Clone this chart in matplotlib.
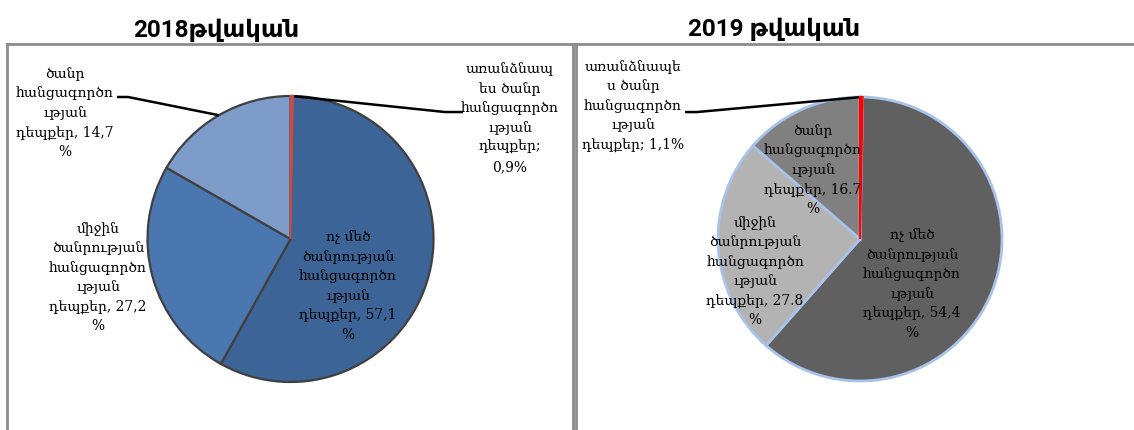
import numpy as np
import matplotlib
matplotlib.use("Agg")
import matplotlib.pyplot as plt

# data: wedge shares, label texts as printed
shares_2018 = [0.3, 57.8, 25.2, 16.7]
labels_2018 = ["առանձնապ\nես ծանր\nհանցագործո\nւթյան\nդեպքեր;\n0,9%",
               "ոչ մեծ\nծանրության\nհանցագործո\nւթյան\nդեպքեր, 57,1\n%",
               "միջին\nծանրության\nհանցագործո\nւթյան\nդեպքեր, 27,2\n%",
               "ծանր\nհանցագործո\nւթյան\nդեպքեր, 14,7\n%"]
shares_2019 = [0.3, 61.2, 24.9, 13.6]
labels_2019 = ["առանձնապե\nս ծանր\nհանցագործո\nւթյան\nդեպքեր; 1,1%",
               "ոչ մեծ\nծանրության\nհանցագործո\nւթյան\nդեպքեր, 54,4\n%",
               "միջին\nծանրության\nհանցագործո\nւթյան\nդեպքեր, 27.8\n%",
               "ծանր\nհանցագործո\nւթյան\nդեպքեր, 16.7\n%"]
titles = ["2018թվական", "2019 թվական"]

colors_2018 = ['#c0504d', '#3c6496', '#4a77b0', '#7d9cc9']
colors_2019 = ['#ff0000', '#606060', '#b3b3b3', '#808080']

W, H = 1134, 430
fig = plt.figure(figsize=(W / 100, H / 100), dpi=100)

lab_font = {'family': ['DejaVu Serif', 'DejaVu Sans'], 'size': 10, 'linespacing': 1.5}
title_font = {'family': ['Roboto', 'DejaVu Sans'], 'size': 17.5, 'weight': 'bold'}


def panel(x0, x1, cx, cy, R):
    # axes covering panel box, one data unit = pie radius in px
    ax = fig.add_axes([x0 / W, 0, (x1 - x0) / W, (H - 44) / H])
    for s in ax.spines.values():
        s.set_color('#8c8c8c')
        s.set_linewidth(2)
    ax.spines['bottom'].set_visible(False)
    return ax


def fit(ax, x0, x1, cx, cy, R):
    ax.set_aspect('auto')
    ax.set_xlim((x0 - cx) / R, (x1 - cx) / R)
    ax.set_ylim(-(H - cy) / R, (cy - 44) / R)
    ax.set_xticks([])
    ax.set_yticks([])


def leader(ax, w, elbow, end):
    ang = np.deg2rad((w.theta1 + w.theta2) / 2)
    p = (np.cos(ang), np.sin(ang))
    ax.plot([p[0], elbow[0], end[0]], [p[1], elbow[1], end[1]],
            color='black', lw=1.8, solid_capstyle='butt', zorder=1)


# 2018
ax1 = panel(7, 573, 290.5, 239, 143)
w1, _ = ax1.pie(shares_2018, colors=colors_2018, startangle=90, counterclock=False,
                radius=1, center=(0, 0), frame=True,
                wedgeprops=dict(edgecolor='#404040', linewidth=1.6))
w1[0].set_edgecolor(colors_2018[0])
w1[0].set_linewidth(1.5)
w1[0].set_zorder(3)
fit(ax1, 7, 573, 290.5, 239, 143)
leader(ax1, w1[0], (1.08, 0.888), (1.206, 0.888))
leader(ax1, w1[3], (-1.136, 0.993), (-1.213, 0.993))
ax1.text(1.535, 0.846, labels_2018[0], ha='center', va='center', **lab_font)
ax1.text(0.402, -0.329, labels_2018[1], ha='center', va='center', **lab_font)
ax1.text(-1.346, -0.269, labels_2018[2], ha='center', va='center', **lab_font)
ax1.text(-1.577, 0.881, labels_2018[3], ha='center', va='center', **lab_font)

# 2019
ax2 = panel(576, 1136, 860, 239, 142)
w2, _ = ax2.pie(shares_2019, colors=colors_2019, startangle=90, counterclock=False,
                radius=1, center=(0, 0), frame=True,
                wedgeprops=dict(edgecolor='#a9c2ea', linewidth=2))
w2[0].set_edgecolor(colors_2019[0])
w2[0].set_linewidth(1.5)
w2[0].set_zorder(3)
fit(ax2, 576, 1136, 860, 239, 142)
leader(ax2, w2[0], (-1.148, 0.894), (-1.232, 0.894))
ax2.text(-1.599, 0.937, labels_2019[0], ha='center', va='center', **lab_font)
ax2.text(0.366, -0.317, labels_2019[1], ha='center', va='center', **lab_font)
ax2.text(-0.739, -0.229, labels_2019[2], ha='center', va='center', **lab_font)
ax2.text(-0.331, 0.486, labels_2019[3], ha='center', va='center', **lab_font)

fig.text(133 / W, 1 - 37 / H, titles[0], ha='left', va='baseline', **title_font)
fig.text(688 / W, 1 - 36 / H, titles[1], ha='left', va='baseline', **title_font)

fig.savefig('out.png', dpi=100)
